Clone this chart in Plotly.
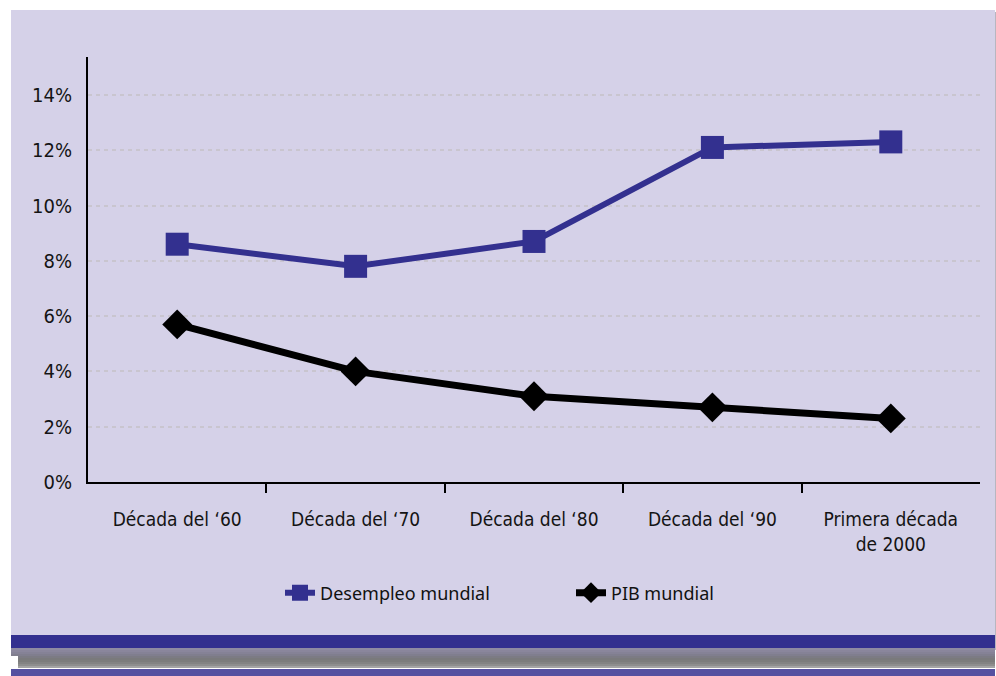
import plotly.graph_objects as go

# Decades on the horizontal axis
categories = ["Década del ‘60", "Década del ‘70", "Década del ‘80", "Década del ‘90",
              "Primera década<br>de 2000"]

# Series values (%)
desempleo = [8.6, 7.8, 8.7, 12.1, 12.3]
pib = [5.7, 4.0, 3.1, 2.7, 2.3]

y_ticks = [0, 2, 4, 6, 8, 10, 12, 14]
y_ticktext = [f"{v}%" for v in y_ticks]

W, H = 996, 676
ML, MR, MT, MB = 88, 16, 57, 194
PW, PH = W - ML - MR, H - MT - MB

BLUE = "#33308F"
PANEL = "#D5D1E8"
NARROW = "DejaVu Sans Condensed, DejaVu Sans, sans-serif"


def px(x, y):
    """Convert page pixel position to paper coordinates."""
    return (x - ML) / PW, (H - MB - y) / PH


def rect(x0, y0, x1, y1, color, layer="below"):
    a, b = px(x0, y1)
    c, d = px(x1, y0)
    return dict(type="rect", xref="paper", yref="paper", x0=a, y0=b, x1=c, y1=d,
                fillcolor=color, line=dict(width=0), layer=layer)


xs = list(range(len(categories)))

fig = go.Figure()
fig.add_trace(go.Scatter(
    x=xs, y=desempleo, name="Desempleo mundial", mode="lines+markers",
    line=dict(color=BLUE, width=6),
    marker=dict(symbol="square", size=23, color=BLUE, line=dict(width=0)),
))
fig.add_trace(go.Scatter(
    x=xs, y=pib, name="PIB mundial", mode="lines+markers",
    line=dict(color="black", width=7),
    marker=dict(symbol="diamond", size=23, color="black", line=dict(width=0)),
))

# Panel, footer band and its shadow
shapes = [
    rect(995, 12, 997, 650, "#B8B6C0"),
    rect(11, 10, 995, 648, PANEL),
    rect(11, 635, 995, 648, BLUE),
]
shadow = ["#8F8BA2", "#8A869C", "#858296", "#807E8E", "#7C7B84",
          "#7A7A7C", "#7C7C7C", "#838383", "#8E8E8E", "#A4A4A4"]
for i, c in enumerate(shadow):
    shapes.append(rect(18 if i > 3 else 11, 648 + 2 * i, 995, 650 + 2 * i, c))
shapes.append(rect(11, 669, 995, 676, "#5550A0"))

tick_font_x = dict(family=NARROW, size=19, color="#141414")
tick_font_y = dict(family=NARROW, size=20, color="#141414")

fig.update_layout(
    width=W, height=H,
    margin=dict(l=ML, r=MR, t=MT, b=MB),
    paper_bgcolor="white",
    plot_bgcolor="rgba(0,0,0,0)",
    shapes=shapes,
    showlegend=True,
    legend=dict(
        orientation="h", x=px(280, 0)[0], xanchor="left",
        y=px(0, 593)[1], yanchor="middle",
        bgcolor="rgba(0,0,0,0)",
        font=dict(family="Noto Sans, Open Sans, sans-serif", size=18, color="#111111"),
        entrywidth=246, entrywidthmode="pixels",
    ),
    xaxis=dict(
        range=[-0.5, len(categories) - 0.5],
        tickmode="array", tickvals=xs, ticktext=categories,
        ticks="", showgrid=False, zeroline=False,
        showline=True, linecolor="black", linewidth=2,
        tickfont=tick_font_x,
        ticklabelstandoff=19,
        minor=dict(tickmode="array", tickvals=[i + 0.5 for i in xs[:-1]],
                   ticks="outside", ticklen=9, tickwidth=2, tickcolor="black",
                   showgrid=False),
        fixedrange=True,
    ),
    yaxis=dict(
        range=[0, PH / 27.65],
        tickmode="array", tickvals=y_ticks, ticktext=y_ticktext,
        ticks="", showgrid=True, gridcolor="#C9C5CF", gridwidth=1.5,
        griddash="4px,4px", zeroline=False,
        showline=True, linecolor="black", linewidth=2,
        tickfont=tick_font_y,
        ticklabelstandoff=10,
        fixedrange=True,
    ),
)

fig.write_html("out.html")
